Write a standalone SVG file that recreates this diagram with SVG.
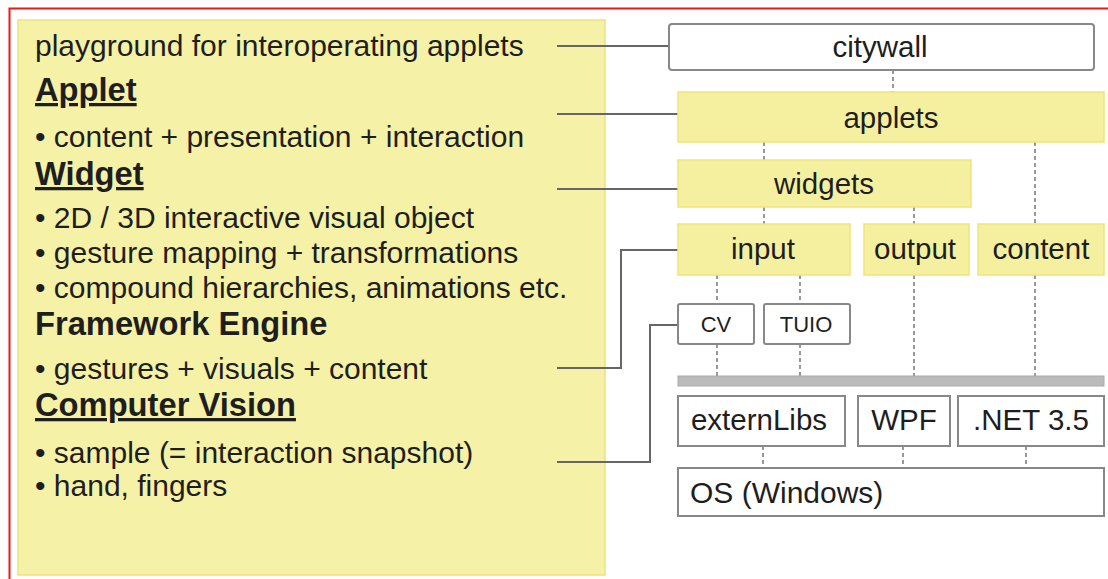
<svg xmlns="http://www.w3.org/2000/svg" width="1108" height="579" viewBox="0 0 1108 579">
<style>
text{font-family:"Liberation Sans",Arial,sans-serif;fill:#1e1e1e}
.t{font-size:30px}
.h{font-size:32.7px;font-weight:bold;text-decoration:underline}
.b{font-size:29.5px;text-anchor:middle}
.s{font-size:22px;text-anchor:middle}
.y{fill:#f5f0a0;stroke:#efe47a;stroke-width:1.5}
.w{fill:#fff;stroke:#888;stroke-width:2}
.d{stroke:#777;stroke-width:1.5;stroke-dasharray:4 3;fill:none}
.c{stroke:#666;stroke-width:2;fill:none}
</style>
<rect x="0" y="0" width="1108" height="579" fill="#fff"/>
<path d="M9.5 579 V8.5 H1108" stroke="#e8191a" stroke-width="2" fill="none"/>
<g id="panel">
<rect x="18" y="20" width="587" height="555" fill="#f5f1a6" stroke="#ece37c" stroke-width="1.5"/>
<text class="t" x="35" y="56">playground for interoperating applets</text>
<text class="h" x="35" y="101">Applet</text>
<text class="t" x="35" y="147">• content + presentation + interaction</text>
<text class="h" x="35" y="185">Widget</text>
<text class="t" x="35" y="228">• 2D / 3D interactive visual object</text>
<text class="t" x="35" y="263">• gesture mapping + transformations</text>
<text class="t" x="35" y="298">• compound hierarchies, animations etc.</text>
<text class="h" x="35" y="335" style="text-decoration:none">Framework Engine</text>
<text class="t" x="35" y="379">• gestures + visuals + content</text>
<text class="h" x="35" y="416">Computer Vision</text>
<text class="t" x="35" y="463">• sample (= interaction snapshot)</text>
<text class="t" x="35" y="496">• hand, fingers</text>
</g>
<g id="connectors">
<path class="c" d="M557 46 H669"/>
<path class="c" d="M557 114 H678"/>
<path class="c" d="M557 189 H678"/>
<path class="c" d="M557 368 H621 V250 H678"/>
<path class="c" d="M557 462 H650 V325 H678"/>
<path class="d" d="M893 70 V92"/>
<path class="d" d="M764 142 V160"/>
<path class="d" d="M1035 142 V224"/>
<path class="d" d="M764 207 V224"/>
<path class="d" d="M914 207 V224"/>
<path class="d" d="M717 275 V304"/>
<path class="d" d="M800 275 V304"/>
<path class="d" d="M717 344 V376"/>
<path class="d" d="M800 344 V376"/>
<path class="d" d="M914 275 V376"/>
<path class="d" d="M1035 275 V376"/>
<path class="d" d="M763 446 V468"/>
<path class="d" d="M903 446 V468"/>
<path class="d" d="M1026 446 V468"/>
</g>
<g id="citywall"><rect class="w" x="669" y="24" width="425" height="46" rx="3"/><text class="b" x="880" y="57">citywall</text></g>
<g id="applets"><rect class="y" x="678" y="92" width="426" height="50"/><text class="b" x="891" y="128">applets</text></g>
<g id="widgets"><rect class="y" x="678" y="160" width="293" height="47"/><text class="b" x="824" y="194">widgets</text></g>
<g id="input"><rect class="y" x="678" y="224" width="172" height="51"/><text class="b" x="763" y="259">input</text></g>
<g id="output"><rect class="y" x="864" y="224" width="105" height="51"/><text class="b" x="915" y="259">output</text></g>
<g id="content"><rect class="y" x="978" y="224" width="126" height="51"/><text class="b" x="1041" y="259">content</text></g>
<g id="cv"><rect class="w" x="678" y="304" width="76" height="40" rx="2"/><text class="s" x="716" y="332">CV</text></g>
<g id="tuio"><rect class="w" x="764" y="304" width="86" height="40" rx="2"/><text class="s" x="806" y="332">TUIO</text></g>
<g id="bar"><rect x="678" y="376" width="426" height="10" fill="#bbb" stroke="#aaa"/></g>
<g id="externLibs"><rect class="w" x="678" y="396" width="167" height="50"/><text class="b" x="759" y="430">externLibs</text></g>
<g id="wpf"><rect class="w" x="858" y="396" width="92" height="50"/><text class="b" x="904" y="430">WPF</text></g>
<g id="net"><rect class="w" x="958" y="396" width="146" height="50"/><text class="b" x="1031" y="430">.NET 3.5</text></g>
<g id="os"><rect class="w" x="678" y="468" width="426" height="48"/><text class="t" x="690" y="503">OS (Windows)</text></g>
</svg>
